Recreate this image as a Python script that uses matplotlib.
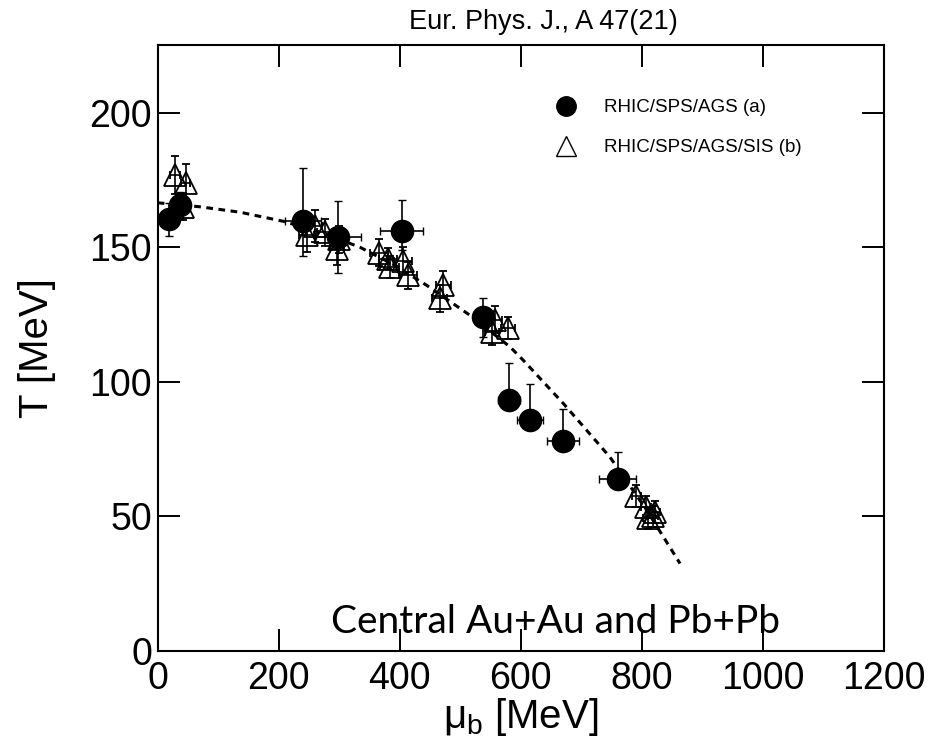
import matplotlib
matplotlib.use("Agg")
import matplotlib.pyplot as plt
from matplotlib.lines import Line2D

plt.rcParams['font.family'] = ['Liberation Sans', 'DejaVu Sans']
plt.rcParams['mathtext.fontset'] = 'custom'
plt.rcParams['mathtext.rm'] = 'Liberation Sans'
plt.rcParams['mathtext.it'] = 'Liberation Sans'

#---------
# DATA
#---------

# (a) RHIC/SPS/AGS, filled circles
mu_a = [19, 37, 240, 298, 403, 537, 580, 615, 670, 760]
T_a = [160.3, 165.5, 159.7, 153.8, 156.0, 123.9, 93.2, 85.7, 78.0, 63.8]
T_a_lo = [6, 5, 12.8, 13.4, 7.2, 7.3, 3, 3, 3, 3]
T_a_hi = [6, 5, 19.7, 13.4, 11.4, 7.3, 13.8, 13.3, 11.8, 10.0]
mu_a_err = [8, 8, 30, 38, 36, 10, 18, 21, 26, 31]

# (b) RHIC/SPS/AGS/SIS, open triangles
mu_b = [29, 46, 42, 246, 260, 276, 296, 300, 366, 381, 383, 405, 414,
        472, 466, 557, 579, 552, 791, 807, 822, 810, 818]
T_b = [176.8, 173.8, 165.0, 154.4, 158.0, 155.6, 149.5, 153.0, 148.0, 145.8,
       142.6, 145.0, 139.6, 136.0, 131.0, 123.0, 120.0, 118.5, 57.6, 53.6,
       51.7, 49.3, 50.0]
T_b_err = [7, 7, 5, 6, 6, 5, 6, 5, 5, 4, 4, 5, 5, 5, 5, 5, 4, 5, 4, 4, 4, 4, 4]
mu_b_err = [8, 8, 8, 12, 12, 12, 12, 12, 15, 15, 15, 15, 15, 12, 12, 12, 12,
            12, 8, 8, 8, 8, 8]

# dashed freeze-out curve
curve_mu = [0, 70, 136, 208, 270, 334, 390, 444, 516, 582, 604, 670, 747, 808, 863]
curve_T = [166.5, 165.0, 163.0, 159.6, 155.5, 150.0, 143.5, 135.9, 124.7, 113.0,
           108.0, 92.0, 72.1, 52.3, 32.5]

labels = ['RHIC/SPS/AGS (a)', 'RHIC/SPS/AGS/SIS (b)']

#---------
# PLOT
#---------

fig = plt.figure(figsize=(9.4, 7.47), dpi=100)
ax = fig.add_axes([157.7 / 940, 96 / 747, 726.3 / 940, 605.7 / 747])

ax.plot(curve_mu, curve_T, color='k', lw=2.2, ls=(0, (2.2, 1.8)), zorder=2)

ax.errorbar(mu_b, T_b, xerr=mu_b_err, yerr=T_b_err, fmt='^', ms=16,
            mfc='none', mec='k', mew=1.3, ecolor='k', elinewidth=1.2,
            capsize=3, zorder=3)
ax.errorbar(mu_a, T_a, xerr=mu_a_err, yerr=[T_a_lo, T_a_hi], fmt='o', ms=16,
            mfc='k', mec='k', ecolor='k', elinewidth=1.2, capsize=3, zorder=4)

ax.set_xlim(0, 1200)
ax.set_ylim(0, 225)
ax.set_xticks(range(0, 1201, 200))
ax.set_yticks(range(0, 201, 50))
ax.tick_params(direction='in', length=16, width=1.4, labelsize=27,
               top=True, right=True)
ax.tick_params(axis='x', pad=7)
ax.tick_params(axis='y', pad=4)
for s in ax.spines.values():
    s.set_linewidth(1.5)

ax.set_ylabel('T [MeV]', fontsize=29)
ax.yaxis.set_label_coords(-0.140, 0.5)
ax.set_xlabel(r'$\mu_{\rm b}$ [MeV]', fontsize=29)
ax.xaxis.set_label_coords(0.5, -0.074)

fig.text(543 / 940, 1 - 22 / 747, 'Eur. Phys. J., A 47(21)', ha='center',
         va='center', fontsize=19.5)

ax.text(658, 6.7, 'Central Au+Au and Pb+Pb', family=['Lato', 'DejaVu Sans'],
        fontsize=28, ha='center', va='baseline')

handles = [Line2D([], [], marker='o', ls='none', color='k', ms=14),
           Line2D([], [], marker='^', ls='none', mfc='none', mec='k',
                  mew=1.0, ms=15)]
ax.legend(handles, labels, loc='upper left', bbox_to_anchor=(557 / 940, 1 - 99 / 747),
          bbox_transform=fig.transFigure, frameon=False, fontsize=13.5,
          handlelength=1.0, handletextpad=1.5, labelspacing=1.24,
          borderpad=0, borderaxespad=0)

fig.savefig('out.png', dpi=100)
